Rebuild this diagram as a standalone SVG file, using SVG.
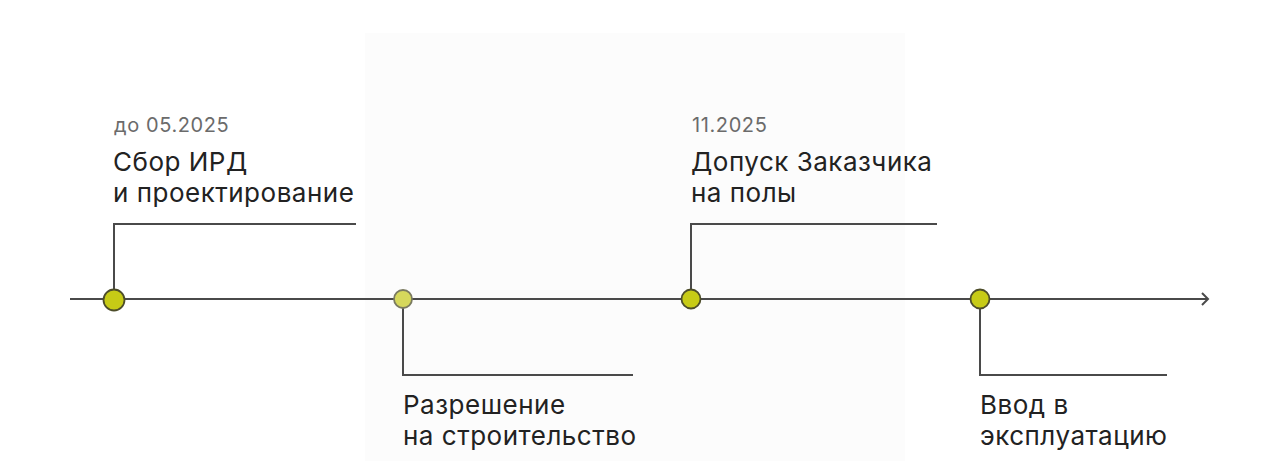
<svg xmlns="http://www.w3.org/2000/svg" width="1280" height="461" viewBox="0 0 1280 461">
<style>
.bg{fill:#ffffff}
.panel{fill:#fcfcfc}
.ln{stroke:#4a4a4a;stroke-width:2;fill:none}
.dot{fill:#c7cb16;stroke:#4d4d2a;stroke-width:1.8}
.dot2{fill:#d6d85c;stroke:#7a7a60;stroke-width:1.8}
.date{font-family:Inter,"Noto Sans",sans-serif;font-size:20px;letter-spacing:0.6px;fill:#6b6b6b}
.title{font-family:Inter,"Noto Sans",sans-serif;font-size:26px;letter-spacing:0.5px;fill:#222222}
</style>
<rect class="bg" x="0" y="0" width="1280" height="461"/>
<rect class="panel" x="365" y="33" width="540" height="428"/>
<g id="connectors">
<line class="ln" x1="70" y1="299" x2="1208" y2="299"/>
<polyline class="ln" points="1202,293 1208,299 1202,305"/>
<polyline class="ln" points="114,299 114,224 356,224"/>
<polyline class="ln" points="403,299 403,375 633,375"/>
<polyline class="ln" points="691,299 691,224 937,224"/>
<polyline class="ln" points="980,299 980,375 1167,375"/>
</g>
<g id="node1">
<circle class="dot" cx="114" cy="300" r="10.5"/>
<text class="date" x="114" y="132">до 05.2025</text>
<text class="title" x="113" y="171">Сбор ИРД</text>
<text class="title" x="113" y="202">и проектирование</text>
</g>
<g id="node2">
<circle class="dot2" cx="403" cy="299" r="9"/>
<text class="title" x="403" y="414">Разрешение</text>
<text class="title" x="403" y="445">на строительство</text>
</g>
<g id="node3">
<circle class="dot" cx="691" cy="299" r="9.5"/>
<text class="date" x="692" y="132">11.2025</text>
<text class="title" x="691" y="171">Допуск Заказчика</text>
<text class="title" x="691" y="202">на полы</text>
</g>
<g id="node4">
<circle class="dot" cx="980" cy="299" r="9.5"/>
<text class="title" x="980" y="414">Ввод в</text>
<text class="title" x="980" y="445">эксплуатацию</text>
</g>
</svg>
